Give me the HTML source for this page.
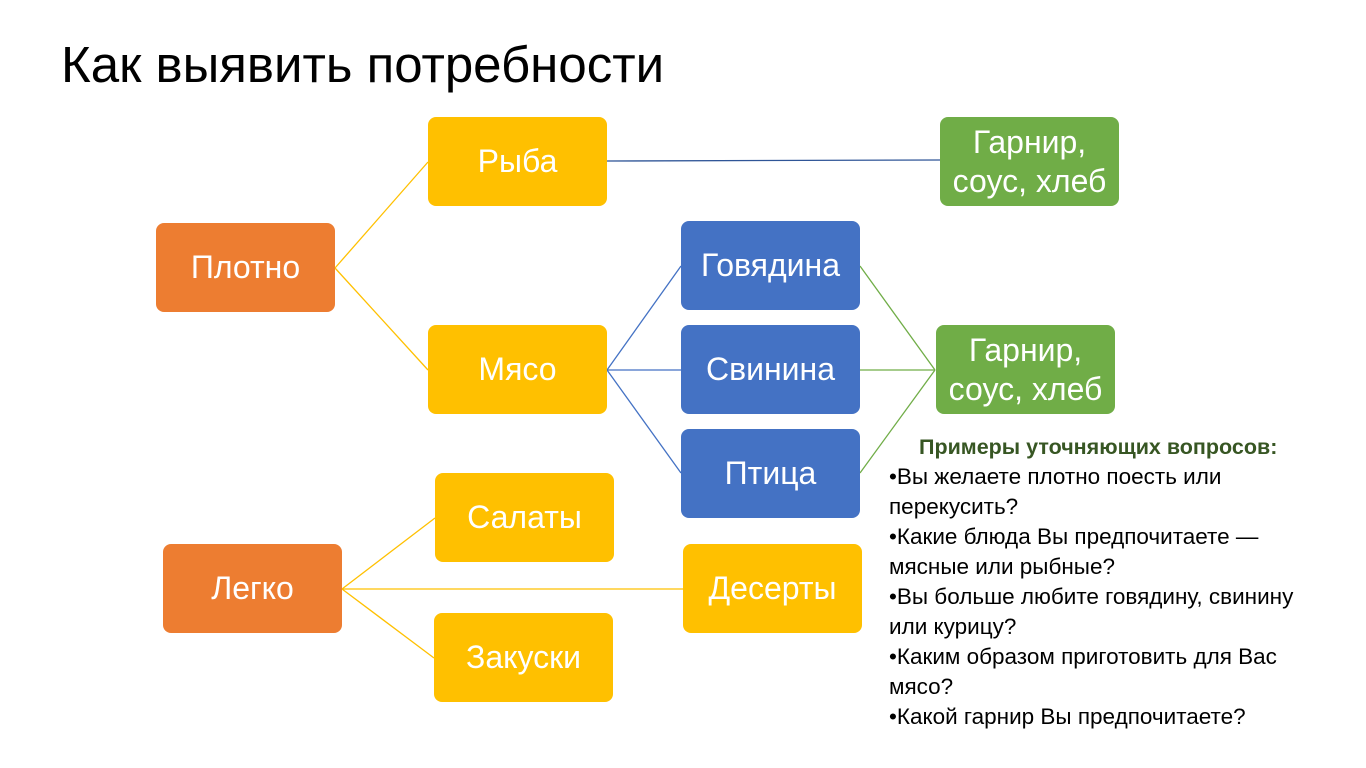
<!DOCTYPE html>
<html><head><meta charset="utf-8"><style>
body{margin:0;width:1366px;height:768px;background:#fff;position:relative;overflow:hidden;font-family:"Liberation Sans","DejaVu Sans",sans-serif;}
.t{position:absolute;left:61px;top:35px;font-size:51px;color:#000;white-space:nowrap;}
.b{position:absolute;width:179px;height:89px;border-radius:8px;color:#fff;font-size:32px;display:flex;align-items:center;justify-content:center;text-align:center;line-height:39px;}
.o{background:#ED7D31}.y{background:#FFC000}.bl{background:#4472C4}.g{background:#70AD47}
.n{position:absolute;left:889px;top:432px;font-size:22.5px;line-height:30px;color:#000;width:470px;white-space:nowrap;}
.h{color:#375623;font-weight:bold;position:absolute;left:30px;top:0;font-size:21.5px}
</style></head><body>
<div class="t">Как выявить потребности</div>
<svg width="1366" height="768" style="position:absolute;left:0;top:0">
<g stroke="#FFC000" stroke-width="1.3" fill="none">
<line x1="335" y1="268" x2="428" y2="162"/><line x1="335" y1="268" x2="428" y2="370"/>
<line x1="342" y1="589" x2="435" y2="518"/><line x1="342" y1="589" x2="683" y2="589"/><line x1="342" y1="589" x2="434" y2="658"/>
</g>
<line x1="607" y1="161" x2="940" y2="160" stroke="#2F5597" stroke-width="1.3"/>
<g stroke="#4472C4" stroke-width="1.3"><line x1="607" y1="370" x2="681" y2="266"/><line x1="607" y1="370" x2="681" y2="370"/><line x1="607" y1="370" x2="681" y2="473"/></g>
<g stroke="#70AD47" stroke-width="1.3"><line x1="860" y1="266" x2="935" y2="370"/><line x1="860" y1="370" x2="935" y2="370"/><line x1="860" y1="473" x2="935" y2="370"/></g>
</svg>
<div class="b o" style="left:156px;top:223px">Плотно</div>
<div class="b y" style="left:428px;top:117px">Рыба</div>
<div class="b y" style="left:428px;top:325px">Мясо</div>
<div class="b bl" style="left:681px;top:221px">Говядина</div>
<div class="b bl" style="left:681px;top:325px">Свинина</div>
<div class="b bl" style="left:681px;top:429px">Птица</div>
<div class="b g" style="left:940px;top:117px">Гарнир,<br>соус, хлеб</div>
<div class="b g" style="left:936px;top:325px">Гарнир,<br>соус, хлеб</div>
<div class="b o" style="left:163px;top:544px">Легко</div>
<div class="b y" style="left:435px;top:473px">Салаты</div>
<div class="b y" style="left:683px;top:544px">Десерты</div>
<div class="b y" style="left:434px;top:613px">Закуски</div>
<div class="n"><div class="h">Примеры уточняющих вопросов:</div><br>
•Вы желаете плотно поесть или<br>перекусить?<br>•Какие блюда Вы предпочитаете —<br>мясные или рыбные?<br>•Вы больше любите говядину, свинину<br>или курицу?<br>•Каким образом приготовить для Вас<br>мясо?<br>•Какой гарнир Вы предпочитаете?</div>
</body></html>
